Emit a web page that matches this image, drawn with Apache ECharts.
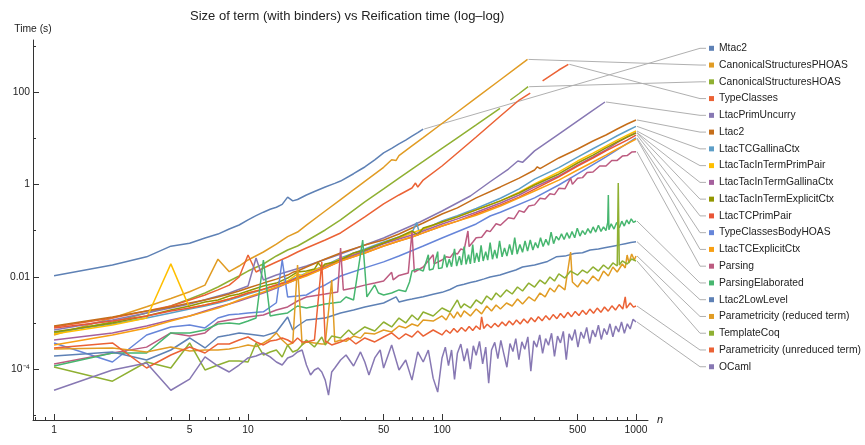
<!DOCTYPE html>
<html><head><meta charset="utf-8">
<script src="https://cdn.jsdelivr.net/npm/echarts@6/dist/echarts.min.js"></script>
<style>html,body{margin:0;padding:0;background:#fff}#c{width:865px;height:445px}</style>
</head><body><div id="c"></div>
<script>
// ---------- data (n = size of term, value = time in seconds) ----------
const seriesNames = ['Mtac2','CanonicalStructuresPHOAS','CanonicalStructuresHOAS','TypeClasses','LtacPrimUncurry','Ltac2','LtacTCGallinaCtx','LtacTacInTermPrimPair','LtacTacInTermGallinaCtx','LtacTacInTermExplicitCtx','LtacTCPrimPair','TypeClassesBodyHOAS','LtacTCExplicitCtx','Parsing','ParsingElaborated','Ltac2LowLevel','Parametricity (reduced term)','TemplateCoq','Parametricity (unreduced term)','OCaml'];
const seriesColors = ['#5E81B5','#E19C24','#8FB032','#EB6235','#8778B3','#C56E1A','#5D9EC7','#FFBF00','#A5609D','#929600','#E95536','#6685D9','#F89F13','#BC5B80','#47B66F','#5E81B5','#E19C24','#8FB032','#EB6235','#8778B3'];

const mtac2 = [[1,0.0105],[2,0.018],[3,0.027],[4,0.046],[5,0.053],[6,0.069],[7,0.084],[8,0.108],[9,0.132],[10,0.17],[11,0.21],[12,0.25],[13,0.29],[14,0.32],[15,0.37],[16,0.53],[17,0.44],[18,0.47],[20,0.59],[22,0.70],[25,0.88],[28,1.05],[30,1.18],[35,1.7],[38,2.1],[40,2.38],[45,3.4],[50,4.8],[55,6.0],[60,7.5],[65,9.1],[70,11.1],[75,13.2],[80,15.8]];
const canonicalPHOAS = [[1,5.5e-4],[2,1.28e-3],[3,2.25e-3],[4,3.4e-3],[5,4.75e-3],[6,6.6e-3],[7,0.024],[8,0.0129],[9,0.0171],[10,0.0231],[12,0.0344],[14,0.051],[16,0.074],[18,0.093],[20,0.131],[25,0.265],[30,0.47],[40,1.16],[50,2.34],[55,3.4],[58,3.3],[60,4.2],[70,6.8],[80,10.3],[100,20.8],[120,36.9],[150,74.5],[200,184],[250,372],[276,507]];
const canonicalHOAS = [[1,5.98e-4],[2,1.05e-3],[3,1.64e-3],[4,2.33e-3],[5,3.3e-3],[6,4.46e-3],[7,6.0e-3],[8,8.1e-3],[9,0.0104],[10,0.0133],[12,0.0189],[14,0.0282],[16,0.038],[18,0.0464],[20,0.0595],[25,0.103],[30,0.17],[40,0.416],[50,0.795],[60,1.37],[70,2.15],[80,3.13],[100,6.0],[120,10.2],[150,19.5],[199,44.4],[212,null],[225,67],[250,92.7],[278,130]];
const typeClasses = [[1,8.2e-4],[2,1.28e-3],[3,1.82e-3],[4,2.33e-3],[5,3.15e-3],[6,4.04e-3],[7,5.2e-3],[8,6.6e-3],[9,9.9e-3],[10,0.0296],[11,0.0127],[12,0.0155],[14,0.0209],[16,0.0268],[18,0.0344],[20,0.042],[25,0.0625],[30,0.0887],[40,0.197],[50,0.377],[60,0.59],[70,0.835],[73,1.07],[75,0.877],[80,1.24],[100,2.5],[120,4.78],[150,10.6],[200,30.2],[250,67],[285,95],[300,null],[330,173],[400,299],[448,397]];
const ltacPrimUncurry = [[1,7.05e-4],[2,1.16e-3],[3,1.64e-3],[5,2.58e-3],[8,4.46e-3],[10,6.3e-3],[11,0.0255],[12,8.5e-3],[14,0.0109],[20,0.0171],[30,0.0311],[50,0.069],[77,0.153],[100,0.265],[140,0.56],[177,1.14],[220,2.15],[246,3.2],[260,3.0],[300,5.3],[400,12.3],[579,36.1],[692,60.7]];
const ltac2 = [[1,8.6e-4],[2,1.35e-3],[3,1.82e-3],[4,2.22e-3],[5,2.71e-3],[6,3.15e-3],[7,3.66e-3],[8,4.24e-3],[9,4.93e-3],[10,5.7e-3],[12,7.3e-3],[14,8.9e-3],[16,0.0109],[17,0.0125],[18,0.0133],[20,0.0163],[25,0.0243],[30,0.0328],[40,0.0485],[50,0.0625],[60,0.0844],[70,0.114],[80,0.146],[100,0.229],[120,0.31],[150,0.51],[200,0.88],[250,1.37],[300,2.05],[310,2.4],[320,2.2],[400,3.73],[500,5.84],[600,8.7],[700,11.7],[800,15.8],[900,20.3],[1000,24.8]];
const ltacTCGallinaCtx = [[1,6.4e-4],[2,9.5e-4],[3,1.28e-3],[4,1.65e-3],[5,2.0e-3],[6,2.33e-3],[7,2.7e-3],[8,3.14e-3],[9,3.65e-3],[10,4.24e-3],[12,5.3e-3],[14,6.5e-3],[16,8.1e-3],[18,9.9e-3],[20,0.0121],[25,0.0175],[30,0.0255],[40,0.04],[50,0.057],[60,0.073],[70,0.09],[74,0.15],[76,0.097],[80,0.105],[100,0.161],[120,0.21],[150,0.3],[200,0.5],[250,0.8],[300,1.3],[400,2.3],[500,3.9],[600,5.9],[700,8.3],[800,11.3],[900,14.5],[1000,18]];
const ltacTacInTermPrimPair = [[1,5.8e-4],[2,9.0e-4],[3,1.28e-3],[4,0.019],[5,2.1e-3],[6,2.45e-3],[7,2.85e-3],[8,3.3e-3],[9,3.83e-3],[10,4.46e-3],[12,5.4e-3],[14,6.65e-3],[16,8.1e-3],[18,0.0115],[19,0.0105],[20,0.0121],[25,0.0171],[30,0.0243],[40,0.036],[50,0.054],[60,0.069],[70,0.089],[80,0.108],[100,0.153],[120,0.198],[150,0.28],[200,0.44],[250,0.68],[300,1.02],[400,1.86],[500,3.2],[600,4.75],[700,6.7],[800,9.1],[900,11.6],[1000,14.3]];
const ltacTacInTermGallinaCtx = [[1,4.28e-4],[2,6.1e-4],[3,8.6e-4],[4,1.16e-3],[5,1.42e-3],[6,1.82e-3],[7,2.22e-3],[8,2.58e-3],[9,2.99e-3],[10,3.47e-3],[12,4.46e-3],[14,5.7e-3],[16,7.3e-3],[18,8.9e-3],[20,0.0109],[25,0.0163],[30,0.0231],[40,0.036],[50,0.0515],[60,0.066],[70,0.08],[80,0.098],[100,0.139],[120,0.179],[150,0.25],[200,0.395],[250,0.59],[300,0.88],[400,1.52],[500,2.62],[600,3.92],[700,5.55],[800,8.0],[900,10.5],[1000,13.2]];
const ltacTacInTermExplicitCtx = [[1,6.4e-4],[2,1.0e-3],[3,1.42e-3],[4,1.91e-3],[5,2.33e-3],[6,2.85e-3],[7,3.15e-3],[8,3.83e-3],[9,4.24e-3],[10,4.93e-3],[12,6.3e-3],[14,7.3e-3],[16,9.4e-3],[18,0.0127],[20,0.0133],[22,0.0147],[23,0.02],[24,0.016],[25,0.019],[28,0.0209],[30,0.0231],[35,0.0328],[40,0.038],[50,0.054],[60,0.0727],[70,0.098],[75,0.08],[80,0.114],[90,0.132],[100,0.153],[120,0.198],[150,0.28],[200,0.44],[250,0.65],[300,0.97],[400,1.68],[500,2.9],[600,4.3],[700,6.15],[800,8.3],[900,10.6],[1000,12.9]];
const ltacTCPrimPair = [[1,7.8e-4],[2,1.1e-3],[3,1.42e-3],[4,1.82e-3],[5,2.1e-3],[6,2.45e-3],[7,2.85e-3],[8,3.3e-3],[9,3.83e-3],[10,4.46e-3],[12,5.4e-3],[14,6.65e-3],[16,7.7e-3],[18,9.4e-3],[20,0.0109],[25,0.0155],[30,0.022],[40,0.0328],[50,0.0465],[60,0.0595],[70,0.0727],[80,0.089],[100,0.126],[120,0.16],[150,0.228],[200,0.36],[250,0.53],[300,0.79],[400,1.45],[500,2.5],[600,3.72],[700,5.3],[800,7.1],[900,9.1],[1000,11.7]];
const typeClassesBodyHOAS = [[1,3.69e-4],[2,1.43e-4],[3,5.5e-4],[4,8.2e-4],[5,9.05e-4],[6,7.8e-4],[7,1.28e-3],[8,1.5e-3],[9,1.57e-3],[10,1.65e-3],[12,1.74e-3],[14,2.74e-3],[15,0.0231],[16,3.66e-3],[18,3.85e-3],[20,4.03e-3],[23,5.7e-3],[25,6.65e-3],[30,0.0104],[40,0.0156],[50,0.021],[60,0.0282],[80,0.0465],[100,0.069],[150,0.139],[177,0.207],[200,0.25],[300,0.51],[400,0.97],[500,1.68],[700,3.92],[1000,10.1]];
const ltacTCExplicitCtx = [[1,3.34e-4],[2,5.5e-4],[3,7.8e-4],[4,1.1e-3],[5,1.42e-3],[6,1.74e-3],[7,2.1e-3],[8,2.58e-3],[9,3.15e-3],[10,3.66e-3],[12,4.69e-3],[14,6.0e-3],[16,7.3e-3],[18,8.9e-3],[20,0.0104],[25,0.0156],[30,0.022],[40,0.0328],[50,0.0465],[60,0.0595],[70,0.0727],[80,0.089],[100,0.126],[120,0.16],[150,0.215],[200,0.34],[250,0.51],[300,0.72],[400,1.24],[500,2.05],[600,3.05],[700,4.3],[800,5.84],[900,7.5],[1000,9.6]];
const parsing = [[1,1.29e-4],[2,2.24e-4],[3,3.0e-4],[4,6.1e-4],[5,5.2e-4],[6,6.1e-4],[7,1.05e-3],[8,1.16e-3],[10,1.35e-3],[12,1.49e-3],[14,1.91e-3],[16,2.22e-3],[18,2.99e-3],[20,3.65e-3],[25,4.24e-3],[29,4.69e-3],[30,0.042],[31,5.18e-3],[35,5.7e-3],[40,6.6e-3],[45,7.3e-3],[50,8.1e-3],[55,0.0125],[56,8.6e-3],[60,0.0107],[67,0.0121],[70,0.093],[72,0.0127],[80,0.0163],[90,0.03],[91,0.019],[100,0.0231],[105,0.027],[110,0.026],[115,0.033],[120,0.031],[125,0.04],[130,0.038],[136,0.098],[138,0.045],[145,0.058],[150,0.07],[160,0.072],[170,0.1],[177,0.095],[190,0.14],[200,0.13],[220,0.19],[235,0.18],[250,0.27],[265,0.25],[280,0.34],[300,0.36],[320,0.5],[340,0.48],[360,0.63],[380,0.6],[400,0.82],[430,0.8],[460,1.37],[470,1.0],[500,1.35],[530,1.4],[560,1.8],[600,1.85],[650,2.5],[700,2.5],[750,3.3],[800,3.3],[850,4.1],[900,4.2],[950,5.0],[1000,5.1]];
const parsingElaborated = [[1,1.17e-4],[2,2.24e-4],[3,2.24e-4],[4,6.1e-4],[5,6.1e-4],[6,7.05e-4],[7,9.5e-4],[8,1.0e-3],[9,9.5e-4],[10,1.1e-3],[11,1.28e-3],[12,0.0231],[13,1.42e-3],[14,1.5e-3],[16,1.65e-3],[18,2.33e-3],[20,2.11e-3],[25,2.58e-3],[30,2.85e-3],[32,3.66e-3],[35,3.15e-3],[39,0.0625],[41,3.66e-3],[45,6.65e-3],[47,4.46e-3],[50,4.04e-3],[55,4.46e-3],[60,5.2e-3],[65,4.8e-3],[68,7.7e-3],[70,0.0133],[75,0.0148],[80,0.0133],[85,0.03],[86,0.014],[90,0.0148],[95,0.035],[96,0.015],
  [100,0.0156],[103,0.03],[106,0.016],[109,0.024],[112,0.0165],[116,0.04],[119,0.017],[123,0.028],[126,0.018],[130,0.045],[133,0.0185],[137,0.03],[140,0.019],[144,0.05],[147,0.02],[151,0.033],[155,0.021],[159,0.048],[163,0.022],[168,0.035],[172,0.023],[177,0.055],[182,0.024],[187,0.038],[192,0.025],[198,0.06],[204,0.027],[210,0.042],[216,0.028],[223,0.05],[230,0.03],[237,0.07],[244,0.031],[252,0.05],[260,0.034],[268,0.06],[276,0.036],[285,0.0625],[294,0.038],[303,0.055],[312,0.042],[322,0.07],[332,0.045],[343,0.065],[354,0.048],[365,0.093],[376,0.052],[388,0.075],[400,0.0626],[413,0.085],[426,0.064],[440,0.09],[454,0.068],[468,0.095],[483,0.07],[498,0.113],[514,0.076],[530,0.1],[547,0.082],[565,0.11],[583,0.088],[601,0.12],[620,0.093],[640,0.13],[660,0.096],[680,0.12],[700,0.1],[715,0.15],[720,0.59],[725,0.104],[745,0.14],[770,0.108],[795,0.15],[820,0.115],[845,0.16],[870,0.125],[895,0.17],[920,0.14],[945,0.18],[970,0.15],[1000,0.161]];
const ltac2LowLevel = [[1,1.93e-4],[2,2.36e-4],[3,1.58e-4],[4,2.6e-4],[5,4.73e-4],[6,2.88e-4],[7,4.97e-4],[8,5.5e-4],[9,6.1e-4],[10,5.8e-4],[12,5.2e-4],[14,6.4e-4],[16,1.35e-3],[17,7.05e-4],[18,8.6e-4],[20,1.16e-3],[25,1.28e-3],[30,1.65e-3],[35,1.9e-3],[40,2.22e-3],[50,2.71e-3],[58,3.66e-3],[60,2.85e-3],[66,3.15e-3],[70,3.3e-3],[80,3.7e-3],[90,4.2e-3],[100,4.6e-3],[110,5.3e-3],[119,6.3e-3],[130,6.9e-3],[140,7.5e-3],[150,8.0e-3],[165,9.0e-3],[177,9.9e-3],[199,0.0109],[220,0.0125],[240,0.014],[260,0.0163],[300,0.018],[350,0.0215],[388,0.027],[430,0.028],[480,0.032],[530,0.033],[580,0.038],[640,0.04],[700,0.043],[760,0.046],[820,0.049],[880,0.052],[940,0.055],[1000,0.0575]];
const paramReduced = [[1,2.74e-4],[2,2.88e-4],[3,2.36e-4],[4,3.02e-4],[5,2.48e-4],[6,2.6e-4],[7,2.6e-4],[8,2.74e-4],[9,3.0e-4],[10,3.34e-4],[11,3.1e-4],[12,3.69e-4],[13,4.5e-4],[14,6.1e-4],[15,4.28e-4],[16,3.34e-4],[17,3.69e-4],[18,0.018],[19,3.34e-4],[20,3.88e-4],[22,3.69e-4],[24,3.51e-4],[25,3.51e-4],[27,8.5e-3],[28,3.88e-4],[30,4.28e-4],[32,4.0e-4],[35,5.2e-4],[38,4.7e-4],[40,6.1e-4],[45,5.8e-4],[50,7.05e-4],[55,6.4e-4],[60,8.6e-4],[65,7.8e-4],[70,9.5e-4],[75,8.6e-4],[80,1.16e-3],[90,1.1e-3],[100,1.42e-3],[105,1.16e-3],[110,1.65e-3],[115,1.28e-3],[120,1.73e-3],[125,1.35e-3],[130,1.82e-3],[140,1.42e-3],[150,2.01e-3],[160,1.57e-3],[170,2.33e-3],[180,1.82e-3],[190,2.45e-3],[200,2.01e-3],[215,2.71e-3],[230,2.33e-3],[245,3.31e-3],[260,2.58e-3],[280,3.66e-3],[300,2.99e-3],[320,4.46e-3],[340,3.66e-3],[360,5.7e-3],[380,4.69e-3],[400,6.65e-3],[430,5.2e-3],[460,0.0344],[470,7.7e-3],[500,6.0e-3],[530,8.5e-3],[560,7.0e-3],[600,0.0104],[640,8.1e-3],[680,0.0133],[720,0.0104],[760,0.0163],[800,0.0127],[850,0.0189],[880,0.0155],[900,0.0296],[920,0.0199],[950,0.0311],[980,0.0231],[1000,0.0282]];
const templateCoq = [[1,1.11e-4],[2,5.5e-5],[3,1.43e-4],[4,1.06e-4],[5,3.69e-4],[6,9.6e-5],[7,1.23e-4],[8,1.5e-4],[9,1.5e-4],[10,1.43e-4],[11,3.69e-4],[12,2.03e-4],[13,2.36e-4],[14,2.6e-4],[15,1.84e-4],[16,3.34e-4],[17,2.36e-4],[18,2.6e-4],[20,4.28e-4],[22,3.02e-4],[24,4.97e-4],[25,3.34e-4],[27,5.2e-4],[30,4.73e-4],[33,7.05e-4],[35,5.5e-4],[40,8.2e-4],[45,6.7e-4],[50,1.05e-3],[55,8.2e-4],[60,1.28e-3],[65,1.0e-3],[70,1.49e-3],[75,1.16e-3],[80,1.73e-3],[90,1.42e-3],[100,2.11e-3],[110,1.73e-3],[120,3.15e-3],[125,2.11e-3],[130,2.58e-3],[140,2.11e-3],[150,3.15e-3],[160,2.58e-3],[170,3.84e-3],[180,3.15e-3],[190,4.46e-3],[200,3.66e-3],[215,5.2e-3],[230,4.24e-3],[245,6.0e-3],[260,4.93e-3],[280,7.3e-3],[300,6.0e-3],[320,8.5e-3],[340,7.0e-3],[360,9.9e-3],[380,8.1e-3],[400,0.0115],[430,9.4e-3],[460,0.0133],[500,0.0109],[530,0.014],[560,0.0121],[600,0.0163],[640,0.0133],[680,0.018],[720,0.0147],[760,0.0199],[800,0.0171],[810,1.07],[820,0.018],[850,0.022],[900,0.0189],[950,0.0243],[1000,0.022]];
const paramUnreduced = [[1,2.88e-4],[2,3.69e-4],[3,1.06e-4],[4,2.03e-4],[5,3.02e-4],[6,2.24e-4],[7,3.51e-4],[8,3.51e-4],[9,4.28e-4],[10,4.97e-4],[11,3.88e-4],[12,3.34e-4],[13,4.07e-4],[14,4.28e-4],[15,4.73e-4],[16,4.28e-4],[17,3.69e-4],[18,4.73e-4],[19,3.88e-4],[20,3.88e-4],[22,4.28e-4],[24,0.0209],[25,4.07e-4],[27,3.34e-4],[30,3.88e-4],[33,4.73e-4],[36,3.51e-4],[40,4.73e-4],[45,3.88e-4],[50,4.97e-4],[55,6.1e-4],[60,4.5e-4],[65,5.8e-4],[70,4.97e-4],[75,6.7e-4],[80,5.2e-4],[90,7.05e-4],
  [100,5.5e-4],[105,7.0e-4],[110,6.0e-4],[115,7.6e-4],[120,6.3e-4],[126,8.0e-4],[132,6.6e-4],[138,8.4e-4],[144,6.9e-4],[150,8.6e-4],[157,7.2e-4],[160,1.35e-3],[164,7.6e-4],[171,9.4e-4],[179,7.9e-4],[187,9.8e-4],[195,8.3e-4],[204,1.05e-3],[213,8.7e-4],[222,1.1e-3],[232,9.1e-4],[242,1.16e-3],[253,9.5e-4],[264,1.22e-3],[276,1.0e-3],[288,1.3e-3],[301,1.06e-3],[314,1.36e-3],[328,1.12e-3],[343,1.44e-3],[358,1.17e-3],[374,1.52e-3],[391,1.24e-3],[408,1.6e-3],[426,1.3e-3],[445,1.7e-3],[465,1.37e-3],[486,1.78e-3],[508,1.45e-3],[530,1.88e-3],[554,1.53e-3],[578,2.0e-3],[604,1.62e-3],[631,2.1e-3],[659,1.7e-3],[688,2.22e-3],[719,1.8e-3],[751,2.35e-3],[784,1.9e-3],[819,2.5e-3],[855,2.0e-3],[880,3.66e-3],[893,2.1e-3],[933,2.7e-3],[970,2.2e-3],[1000,2.33e-3]];
const ocaml = [[1,3.5e-5],[2,9.6e-5],[3,1.36e-4],[4,3.5e-5],[5,6.1e-5],[6,1.84e-4],[7,1.17e-4],[8,8.7e-5],[9,1.23e-4],[10,1.75e-4],[11,1.93e-4],[12,2.24e-4],[13,1.84e-4],[14,1.43e-4],[15,1.23e-4],[16,1.75e-4],[17,1.93e-4],[18,2.36e-4],[19,2.6e-4],[20,1.23e-4],[21,7.5e-5],[22,9.6e-5],[23,1.06e-4],[24,8.7e-5],[25,5.8e-5],[26,2.75e-5],[27,8.7e-5],[28,1.06e-4],[30,1.58e-4],[32,2.03e-4],[35,1.17e-4],[38,2.36e-4],[40,1.43e-4],[42,7.5e-5],[45,1.75e-4],[48,2.6e-4],[50,1.06e-4],[55,3.34e-4],[60,9.6e-5],[65,1.58e-4],[70,5.8e-5],[75,2.36e-4],[80,1.43e-4],[85,2.6e-4],[90,6.4e-5],[95,3.2e-5],
  [100,1.75e-4],[104,3.0e-4],[108,1.2e-4],[112,2.6e-4],[116,6.0e-5],[120,2.2e-4],[125,3.5e-4],[130,1.5e-4],[135,2.8e-4],[140,1.0e-4],[145,3.2e-4],[150,2.0e-4],[156,4.0e-4],[162,1.3e-4],[168,3.0e-4],[174,5.0e-5],[180,2.6e-4],[187,3.8e-4],[194,1.7e-4],[201,4.2e-4],[208,2.2e-4],[216,1.1e-4],[224,3.6e-4],[232,2.4e-4],[240,4.6e-4],[249,1.6e-4],[258,3.9e-4],[267,2.7e-4],[277,5.0e-4],[287,9.0e-5],[297,4.1e-4],[308,3.0e-4],[319,5.5e-4],[330,2.2e-4],[342,4.6e-4],[354,3.3e-4],[367,6.0e-4],[380,1.9e-4],[394,5.2e-4],[408,3.7e-4],[422,6.6e-4],[437,1.6e-4],[452,5.8e-4],[468,4.2e-4],[485,7.2e-4],[502,3.0e-4],[520,6.4e-4],[538,4.6e-4],[557,8.0e-4],[577,3.6e-4],[597,7.0e-4],[618,5.0e-4],[640,9.0e-4],[662,4.4e-4],[685,7.6e-4],[709,5.6e-4],[734,9.6e-4],[760,5.0e-4],[786,8.6e-4],[814,6.4e-4],[842,1.05e-3],[871,6.0e-4],[902,9.6e-4],[933,7.4e-4],[966,1.2e-3],[1000,1.05e-3]];

const seriesData = [mtac2, canonicalPHOAS, canonicalHOAS, typeClasses, ltacPrimUncurry, ltac2, ltacTCGallinaCtx, ltacTacInTermPrimPair, ltacTacInTermGallinaCtx, ltacTacInTermExplicitCtx, ltacTCPrimPair, typeClassesBodyHOAS, ltacTCExplicitCtx, parsing, parsingElaborated, ltac2LowLevel, paramReduced, templateCoq, paramUnreduced, ocaml];

// axis ticks
const xMajorTicks = [1, 5, 10, 50, 100, 500, 1000];
const xMajorLabels = ['1', '5', '10', '50', '100', '500', '1000'];
const xMinorTicks = [0.8, 0.9, 2, 3, 4, 6, 7, 8, 9, 20, 30, 40, 60, 70, 80, 90, 200, 300, 400, 600, 700, 800, 900];
const yMajorTicks = [1e-4, 0.01, 1, 100];
const yMajorLabels = ['10\u207B\u2074', '0.01', '1', '100'];
const yMinorTicks = [1e-5, 1e-3, 0.1, 10, 1000];

// ---------- layout ----------
const X_MIN = 0.779, X_MAX = 1153;
const Y_MIN = 7.94e-6, Y_MAX = 1334;
const FONT = "'Liberation Sans', Arial, sans-serif";
const TXT = '#222';
const LEG_TOP = 42.3, LEG_H = 12, LEG_GAP = 4.76;
const ELBOW_X = 700, LINE_END_X = 706;

const L = Math.log10;
function nearestLabel(v, ticks, labels) {
  let best = 0, d = Infinity;
  ticks.forEach((t, i) => { const dd = Math.abs(L(t) - v); if (dd < d) { d = dd; best = i; } });
  return labels[best];
}

const axisLineStyle = { color: '#333', width: 1 };
const option = {
  animation: false,
  backgroundColor: '#fff',
  textStyle: { fontFamily: FONT },
  title: {
    text: 'Size of term (with binders) vs Reification time (log\u2013log)',
    left: 190, top: 10, padding: 0,
    textStyle: { fontSize: 13, fontWeight: 'normal', color: TXT, fontFamily: FONT }
  },
  grid: { left: 33, right: 217, top: 40, bottom: 25 },
  legend: {
    data: seriesNames, orient: 'vertical', left: 709, top: LEG_TOP, padding: 0,
    itemWidth: 5, itemHeight: 5, itemGap: LEG_GAP, icon: 'rect',
    selectedMode: false,
    textStyle: { fontSize: 10.3, lineHeight: LEG_H, color: TXT, fontFamily: FONT }
  },
  xAxis: [
    { type: 'log', min: X_MIN, max: X_MAX, show: false, position: 'bottom' },
    { type: 'value', min: L(X_MIN), max: L(X_MAX), position: 'bottom',
      axisLine: { show: true, onZero: false, lineStyle: axisLineStyle },
      axisTick: { show: true, inside: true, length: 6, customValues: xMajorTicks.map(L), lineStyle: axisLineStyle },
      axisLabel: { show: true, customValues: xMajorTicks.map(L), margin: 5, fontSize: 10.3, color: TXT, fontFamily: FONT,
        formatter: v => nearestLabel(v, xMajorTicks, xMajorLabels) },
      splitLine: { show: false },
      name: 'n', nameLocation: 'end', nameGap: 9,
      nameTextStyle: { fontStyle: 'italic', fontSize: 11, color: TXT, fontFamily: FONT } },
    { type: 'value', min: L(X_MIN), max: L(X_MAX), position: 'bottom',
      axisLine: { show: false, onZero: false },
      axisTick: { show: true, inside: true, length: 3, customValues: xMinorTicks.map(L), lineStyle: axisLineStyle },
      axisLabel: { show: false }, splitLine: { show: false } }
  ],
  yAxis: [
    { type: 'log', min: Y_MIN, max: Y_MAX, show: false, position: 'left' },
    { type: 'value', min: L(Y_MIN), max: L(Y_MAX), position: 'left',
      axisLine: { show: true, onZero: false, lineStyle: axisLineStyle },
      axisTick: { show: true, inside: true, length: 6, customValues: yMajorTicks.map(L), lineStyle: axisLineStyle },
      axisLabel: { show: true, customValues: yMajorTicks.map(L), margin: 3, fontSize: 10.3, color: TXT, fontFamily: FONT,
        formatter: v => nearestLabel(v, yMajorTicks, yMajorLabels) },
      splitLine: { show: false },
      name: 'Time (s)', nameLocation: 'end', nameGap: 6,
      nameTextStyle: { fontSize: 10.3, color: TXT, fontFamily: FONT, align: 'center' } },
    { type: 'value', min: L(Y_MIN), max: L(Y_MAX), position: 'left',
      axisLine: { show: false, onZero: false },
      axisTick: { show: true, inside: true, length: 3, customValues: yMinorTicks.map(L), lineStyle: axisLineStyle },
      axisLabel: { show: false }, splitLine: { show: false } }
  ],
  series: seriesNames.map((name, i) => ({
    name, type: 'line', xAxisIndex: 0, yAxisIndex: 0,
    data: seriesData[i], showSymbol: false, symbol: 'none', connectNulls: false,
    lineStyle: { width: 1.5, color: seriesColors[i] },
    itemStyle: { color: seriesColors[i] },
    emphasis: { disabled: true }, silent: true
  }))
};

const chart = echarts.init(document.getElementById('c'), null, { renderer: 'canvas' });
chart.setOption(option);

// leader lines from each series' last point to its legend row
const leaders = seriesData.map((d, i) => {
  const last = d[d.length - 1];
  const p = chart.convertToPixel({ xAxisIndex: 0, yAxisIndex: 0 }, last);
  const ry = LEG_TOP + i * (LEG_H + LEG_GAP) + LEG_H / 2;
  return { type: 'polyline', silent: true, z: 1,
    shape: { points: [[p[0] + 1, p[1]], [ELBOW_X, ry], [LINE_END_X, ry]] },
    style: { stroke: '#b0b0b0', lineWidth: 1, fill: null } };
});
chart.setOption({ graphic: leaders });
</script>
</body></html>
